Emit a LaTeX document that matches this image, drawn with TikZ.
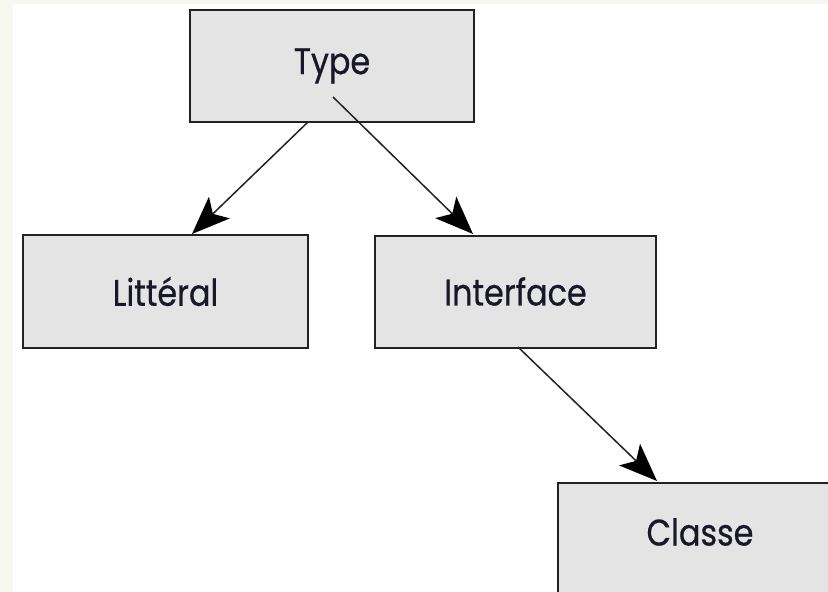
\documentclass[tikz,border=0pt]{standalone}
\usepackage{fontspec}
\setmainfont{Poppins}[FakeStretch=0.86, FakeBold=0.6]
\usetikzlibrary{arrows.meta}
\definecolor{cream}{HTML}{F6F7EF}
\definecolor{boxfill}{HTML}{E4E4E4}
\definecolor{boxline}{HTML}{222222}
\definecolor{txt}{HTML}{181828}
\definecolor{conn}{HTML}{222222}
\tikzset{
  box/.style={draw=boxline, line width=2pt, fill=boxfill, rectangle, inner sep=0pt,
    font=\fontsize{37}{40}\selectfont, text=txt},
  conn/.style={draw=conn, line width=1.5pt,
    -{Stealth[length=38pt, width=30pt, inset=9pt, fill=black, color=black]}},
}
\begin{document}
\begin{tikzpicture}[x=1pt, y=-1pt]
\useasboundingbox (0,0) rectangle (828,592);
\fill[cream] (0,0) rectangle (828,592);
\fill[white] (13,4) rectangle (828,592);
\begin{scope}
\clip (0,0) rectangle (828,592);
\node[box, minimum width=284pt, minimum height=112pt] (type) at (332,66) {Type};
\node[box, minimum width=285pt, minimum height=113pt] (lit) at (165.5,291.5) {Littéral};
\node[box, minimum width=281pt, minimum height=112pt] (iface) at (515.5,291.5) {Interface};
\node[box, minimum width=300pt, minimum height=120pt, anchor=north west] (classe) at (557,482) {};
\node[font=\fontsize{37}{40}\selectfont, text=txt] (classetxt) at (700,532) {Classe};
\coordinate (s1) at (308,122);
\coordinate (s2) at (333,97);
\coordinate (s3) at (518,347);
\coordinate (e1) at (192,234);
\coordinate (e2) at (473,234);
\coordinate (e3) at (657,481);
\draw[conn] (s1) -- (e1);
\draw[conn] (s2) -- (e2);
\draw[conn] (s3) -- (e3);
\end{scope}
\end{tikzpicture}
\end{document}
